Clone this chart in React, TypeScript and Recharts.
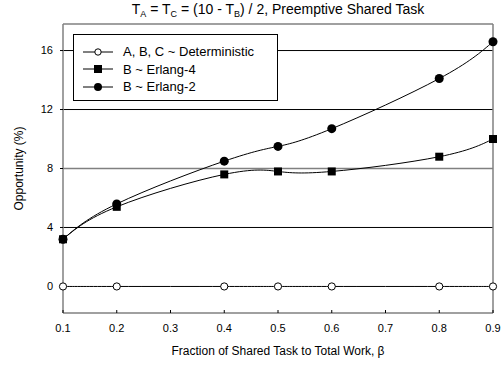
import { LineChart, Line, XAxis, YAxis, ReferenceLine, Label } from "recharts"

const BETA = [0.1, 0.2, 0.4, 0.5, 0.6, 0.8, 0.9]
const DETERMINISTIC = [0, 0, 0, 0, 0, 0, 0]
const ERLANG4 = [3.2, 5.4, 7.6, 7.8, 7.8, 8.8, 10.0]
const ERLANG2 = [3.2, 5.6, 8.5, 9.5, 10.7, 14.1, 16.6]
const X_TICKS = [0.1, 0.2, 0.3, 0.4, 0.5, 0.6, 0.7, 0.8, 0.9]
const Y_TICKS = [0, 4, 8, 12, 16]

const data = BETA.map((b, i) => ({
  beta: b,
  det: DETERMINISTIC[i],
  e4: ERLANG4[i],
  e2: ERLANG2[i]
}))

const FONT = "'Liberation Sans', Arial, sans-serif"
const FRAME = "#808080"

const XTick = (props: any) => {
  const { x, y, payload } = props
  return (
    <g>
      <line x1={x} x2={x} y1={y} y2={y - 3} stroke="#000" />
      <text x={x} y={y + 19} textAnchor="middle" fontSize={11} fontFamily={FONT} fill="#000">
        {payload.value.toFixed(1)}
      </text>
    </g>
  )
}

const OpenDot = (props: any) => {
  const { cx, cy } = props
  return <circle cx={cx} cy={cy} r={3.6} fill="#fff" stroke="#000" strokeWidth={1} />
}

const SquareDot = (props: any) => {
  const { cx, cy } = props
  return <rect x={cx - 4} y={cy - 4} width={8} height={8} fill="#000" />
}

const FilledDot = (props: any) => {
  const { cx, cy } = props
  return <circle cx={cx} cy={cy} r={4.5} fill="#000" />
}

const legendItems = [
  { name: "A, B, C ~ Deterministic", marker: "open" },
  { name: "B ~ Erlang-4", marker: "square" },
  { name: "B ~ Erlang-2", marker: "filled" }
]

function LegendBox() {
  return (
    <div
      style={{
        position: "absolute",
        left: 73,
        top: 34,
        width: 203,
        height: 65,
        border: "1px solid #000",
        background: "#fff",
        fontFamily: FONT,
        fontSize: 13
      }}
    >
      {legendItems.map((item, i) => (
        <div key={i} style={{ position: "absolute", left: 9, top: 8 + i * 17.5, height: 17, display: "flex", alignItems: "center" }}>
          <svg width={32} height={12}>
            <line x1={0} x2={30} y1={6} y2={6} stroke="#000" />
            {item.marker === "open" && <circle cx={15} cy={6} r={3.2} fill="#fff" stroke="#000" />}
            {item.marker === "square" && <rect x={11} y={2} width={8} height={8} fill="#000" />}
            {item.marker === "filled" && <circle cx={15} cy={6} r={4} fill="#000" />}
          </svg>
          <span style={{ marginLeft: 8, whiteSpace: "nowrap" }}>{item.name}</span>
        </div>
      ))}
    </div>
  )
}

export default function App() {
  const sub = { fontSize: 9, verticalAlign: -3 }
  return (
    <div style={{ position: "absolute", left: 0, top: 0, width: 503, height: 368, background: "#fff" }}>
      <div
        style={{
          position: "absolute",
          left: 63,
          width: 430,
          top: 1,
          textAlign: "center",
          fontFamily: FONT,
          fontSize: 14,
          whiteSpace: "nowrap"
        }}
      >
        T<span style={sub}>A</span> = T<span style={sub}>C</span> = (10 - T<span style={sub}>B</span>) / 2, Preemptive Shared Task
      </div>

      <LineChart width={503} height={368} data={data} margin={{ top: 24, right: 10, left: 0, bottom: 0 }}>
        <XAxis
          type="number"
          dataKey="beta"
          domain={[0.1, 0.9]}
          ticks={X_TICKS}
          tickSize={0}
          tickMargin={0}
          tick={<XTick />}
          height={55}
          stroke={FRAME}
          strokeWidth={1.5}
        >
          <Label
            value="Fraction of Shared Task to Total Work,  β"
            position="insideBottom"
            offset={13}
            style={{ fontFamily: FONT, fontSize: 12, fill: "#000" }}
          />
        </XAxis>
        <YAxis
          type="number"
          domain={[-1.8, 17.8]}
          ticks={Y_TICKS}
          allowDataOverflow
          width={63}
          tickSize={3}
          tickMargin={7}
          stroke={FRAME}
          strokeWidth={1.5}
          tick={{ fontFamily: FONT, fontSize: 11, fill: "#000" }}
          tickLine={{ stroke: "#000", strokeWidth: 1 }}
        >
          <Label
            value="Opportunity (%)"
            angle={-90}
            position="insideLeft"
            offset={19}
            style={{ fontFamily: FONT, fontSize: 12, fill: "#000", textAnchor: "middle" }}
          />
        </YAxis>

        <ReferenceLine y={4} stroke="#000" strokeWidth={1} />
        <ReferenceLine y={8} stroke={FRAME} strokeWidth={1.5} />
        <ReferenceLine y={12} stroke="#000" strokeWidth={1} />
        <ReferenceLine y={16} stroke="#000" strokeWidth={1} />
        <ReferenceLine y={17.8} stroke={FRAME} strokeWidth={1.5} />
        <ReferenceLine x={0.9} stroke={FRAME} strokeWidth={1.5} />

        <Line type="natural" dataKey="det" stroke="#000" strokeWidth={1} dot={<OpenDot />} isAnimationActive={false} />
        <Line type="natural" dataKey="e4" stroke="#000" strokeWidth={1} dot={<SquareDot />} isAnimationActive={false} />
        <Line type="natural" dataKey="e2" stroke="#000" strokeWidth={1} dot={<FilledDot />} isAnimationActive={false} />
      </LineChart>

      <LegendBox />
    </div>
  )
}
